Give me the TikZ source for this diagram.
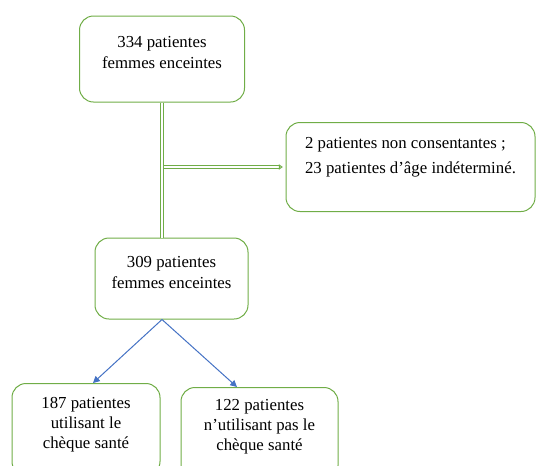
\documentclass[tikz,border=0pt]{standalone}
\usepackage{fontspec}
\setmainfont{Liberation Serif}
\usetikzlibrary{arrows.meta}
\definecolor{boxgreen}{HTML}{70AD47}
\definecolor{arrowblue}{HTML}{4472C4}
\tikzset{
	greenbox/.style={draw=boxgreen, line width=0.75pt, rounded corners=10.5pt, align=center, inner sep=0pt, font=\fontsize{12.6}{15.75}\selectfont},
	doubleline/.style={draw=boxgreen, double=white, double distance=1.5pt, line width=0.75pt},
	bluearrow/.style={draw=arrowblue, line width=0.75pt, -{Triangle[length=5pt,width=5pt]}}
}
\begin{document}
\begin{tikzpicture}[x=0.75pt, y=-0.75pt]
			%%%%% START %%%%%
			\clip (0, 0) rectangle (536, 465);
			
			\node[greenbox, minimum width=123.75pt, minimum height=64.5pt, text height=23.75pt, text depth=10.25pt] (start) at (162, 59) {334 patientes\\femmes enceintes};
			\node[greenbox, minimum width=186.75pt, minimum height=66.75pt, align=left, text height=26.75pt, text depth=17pt, font=\fontsize{12.6}{18.75}\selectfont] (excl) at (410.5, 167) {2 patientes non consentantes ;\\23 patientes d’âge indéterminé.};
			\node[greenbox, minimum width=114.75pt, minimum height=60.75pt, text height=23.75pt, text depth=9.5pt] (mid) at (171.5, 278.5) {309 patientes\\femmes enceintes};
			
			\node[greenbox, minimum width=111pt, minimum height=69pt, anchor=north, text height=38pt, text depth=9.5pt, font=\fontsize{12.6}{15}\selectfont] (users) at (86, 383) {187 patientes\\utilisant le\\chèque santé};
			\node[greenbox, minimum width=117.75pt, minimum height=69pt, anchor=north, text height=38pt, text depth=12.5pt, font=\fontsize{12.6}{15}\selectfont] (nonusers) at (259.5, 387) {122 patientes\\n’utilisant pas le\\chèque santé};
			
			\draw[doubleline] (start.south) -- (start.south |- mid.north);
			\draw[doubleline, -{Triangle[open, length=3pt, width=4pt]}, shorten >=2pt] ([xshift=1.2pt]start.south |- excl.west) -- (excl.west);
			
			\coordinate (split) at (start.south |- mid.south);
			\draw[bluearrow] (split) -- ([xshift=5.25pt]users.north);
			\draw[bluearrow] (split) -- ([xshift=-16.9pt]nonusers.north);
			
			%%%%% END %%%%%
\end{tikzpicture}
\end{document}
